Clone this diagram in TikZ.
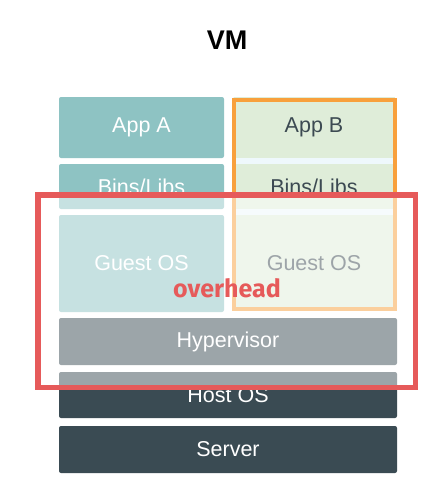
\documentclass[tikz,border=0pt]{standalone}
\usepackage{fontspec}
\setmainfont{Liberation Sans}
\newfontfamily\ovfont{Fira Sans}
\usetikzlibrary{positioning}

\definecolor{tealA}{HTML}{8EC3C3}
\definecolor{greenB}{HTML}{DFEDD9}
\definecolor{stripB}{HTML}{EEF8FC}
\definecolor{textB}{HTML}{3C4A52}
\definecolor{darkbase}{HTML}{3A4B53}
\definecolor{frameB}{HTML}{F8A03C}
\definecolor{overred}{HTML}{E65A5A}

\tikzset{
  layer/.style={rectangle, rounded corners=2pt, inner sep=0pt,
    font=\fontsize{21.5}{24}\selectfont},
  boxA/.style={layer, fill=tealA, text=white, minimum width=165pt},
  boxB/.style={layer, fill=greenB, text=textB, rounded corners=0pt, minimum width=161pt},
  base/.style={layer, fill=darkbase, text=white, minimum width=338pt},
}

\begin{document}
\begin{tikzpicture}[x=1pt,y=-1pt]
            \useasboundingbox (0,0) rectangle (434,496);

            \node[font=\bfseries\fontsize{27}{30}\selectfont] (title) at (227,40) {VM};

            % left column
            \node[boxA, minimum height=61pt] (appA) at (141.5,127.5) {App A};
            \node[boxA, minimum height=45pt] (binsA) at (141.5,186.5) {Bins/Libs};
            \node[boxA, minimum height=97pt] (guestA) at (141.5,263.5) {Guest OS};

            % right column
            \fill[stripB] (233,97) rectangle (395,311);
            \node[boxB, minimum height=61pt] (appB) at (314,127.5) {App B};
            \node[boxB, minimum height=45pt] (binsB) at (314,186.5) {Bins/Libs};
            \node[boxB, minimum height=96pt] (guestB) at (314,263) {Guest OS};
            \draw[frameB, line width=4pt] (234,99.5) rectangle (394.5,309);

            % shared layers
            \node[base, minimum height=47pt] (hyper) at (228,341.5) {Hypervisor};
            \node[base, minimum height=46pt] (host) at (228,395) {Host OS};
            \node[base, minimum height=47pt] (server) at (228,449.5) {Server};

            % overhead frame
            \fill[white, fill opacity=0.5] (40.5,197.5) rectangle (413,385);
            \draw[overred, line width=5.5pt] (38,195) rectangle (415.5,387.5);
            \node[overred, anchor=base, font=\ovfont\bfseries\fontsize{25}{28}\selectfont]
                (over) at (227,297) {overhead};
\end{tikzpicture}
\end{document}
